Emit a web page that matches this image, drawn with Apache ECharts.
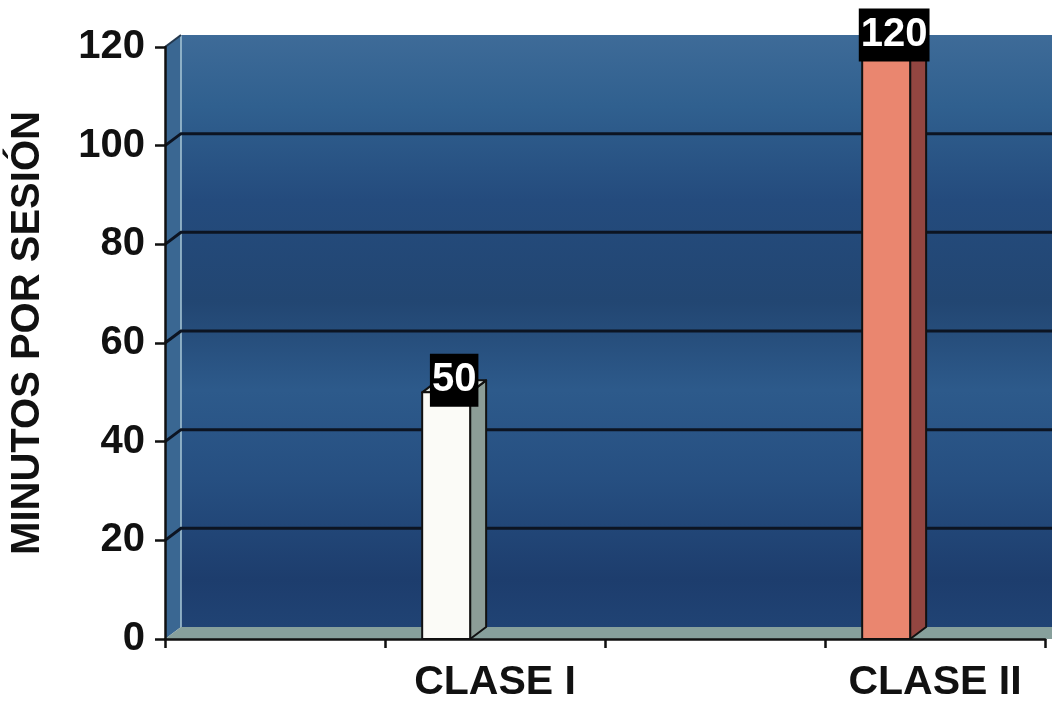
<!DOCTYPE html>
<html>
<head>
<meta charset="utf-8">
<script src="https://cdn.jsdelivr.net/npm/echarts@6/dist/echarts.min.js"></script>
<style>
  html, body { margin: 0; padding: 0; background: #ffffff; }
  #chart { width: 1052px; height: 704px; }
</style>
</head>
<body>
<div id="chart"></div>
<script>
// Categories along the horizontal axis (empty slots keep the spacing)
const xCategories = ['', 'CLASE I', '', 'CLASE II'];
// Minutes per session for each category slot
const minutes = [null, 50, null, 120];
// Value axis ticks
const yTicks = [0, 20, 40, 60, 80, 100, 120];

// Bar face colours, one per category slot
const frontColors = [null, '#fbfbf7', null, '#ea866f'];
const sideColors = [null, '#8c9d97', null, '#934641'];
const topColors = [null, '#d9e0dc', null, '#c96a58'];

const FONT = '"Liberation Sans", Arial, sans-serif';
const DX = 16, DY = -12; // depth offset of the back wall

const chart = echarts.init(document.getElementById('chart'), null, { renderer: 'canvas' });

function renderWalls(params, api) {
  const cs = params.coordSys;
  const left = cs.x, right = cs.x + cs.width, top = cs.y, bottom = cs.y + cs.height;
  const children = [];
  // back wall
  children.push({
    type: 'rect',
    shape: { x: left + DX, y: top + DY, width: cs.width + 20, height: cs.height },
    style: {
      fill: new echarts.graphic.LinearGradient(0, 0, 0, 1, [
        { offset: 0, color: '#3e6b98' },
        { offset: 0.12, color: '#30608f' },
        { offset: 0.28, color: '#244b7d' },
        { offset: 0.45, color: '#224672' },
        { offset: 0.6, color: '#2d5a8b' },
        { offset: 0.75, color: '#264f81' },
        { offset: 0.92, color: '#1d3d6d' },
        { offset: 1, color: '#204374' }
      ])
    }
  });
  // left side wall
  children.push({
    type: 'polygon',
    shape: { points: [[left, top], [left + DX, top + DY], [left + DX, bottom + DY], [left, bottom]] },
    style: { fill: '#3a6792' }
  });
  children.push({
    type: 'line',
    shape: { x1: left + DX, y1: top + DY, x2: left + DX, y2: bottom + DY },
    style: { stroke: 'rgba(170,200,215,0.75)', lineWidth: 2 }
  });
  // floor
  children.push({
    type: 'polygon',
    shape: { points: [[left, bottom], [left + DX, bottom + DY], [right + DX + 10, bottom + DY], [right + 10, bottom]] },
    style: { fill: '#87a09c' }
  });
  // gridlines on the back wall with their corner diagonals
  yTicks.forEach(function (v) {
    if (v === 0) return;
    const y = api.coord([0, v])[1];
    if (v === yTicks[yTicks.length - 1]) {
      children.push({
        type: 'line',
        shape: { x1: left, y1: y, x2: left + DX, y2: y + DY },
        style: { stroke: '#23384f', lineWidth: 2 }
      });
      return;
    }
    children.push({
      type: 'polyline',
      shape: { points: [[left, y], [left + DX, y + DY], [right + DX + 10, y + DY]] },
      style: { stroke: '#0c1422', lineWidth: 3, fill: null }
    });
  });
  return { type: 'group', children: children };
}

function renderBar(params, api) {
  const idx = api.value(0);
  const val = api.value(1);
  if (val == null || isNaN(val)) return null;
  const bw = api.size([1, 0])[0];
  const topPt = api.coord([idx, val]);
  const basePt = api.coord([idx, 0]);
  const w = bw * 0.218;
  const cx = topPt[0] - bw * 0.222;
  const x0 = cx - w / 2, x1 = cx + w / 2;
  const yt = topPt[1], yb = basePt[1];
  const stroke = { stroke: '#111', lineWidth: 2, lineJoin: 'round' };
  return {
    type: 'group',
    children: [
      {
        type: 'polygon',
        shape: { points: [[x1, yb], [x1 + DX, yb + DY], [x1 + DX, yt + DY], [x1, yt]] },
        style: Object.assign({ fill: sideColors[idx] }, stroke)
      },
      {
        type: 'polygon',
        shape: { points: [[x0, yt], [x1, yt], [x1 + DX, yt + DY], [x0 + DX, yt + DY]] },
        style: Object.assign({ fill: topColors[idx] }, stroke)
      },
      {
        type: 'rect',
        shape: { x: x0, y: yt, width: w, height: yb - yt },
        style: Object.assign({ fill: frontColors[idx] }, stroke)
      },
      {
        type: 'text',
        style: {
          text: String(val),
          x: cx + DX / 2,
          y: yt - 12,
          align: 'center',
          verticalAlign: 'middle',
          fill: '#ffffff',
          font: 'bold 40px ' + FONT,
          lineHeight: 42,
          backgroundColor: '#000000',
          padding: [6, 2, 5, 2]
        }
      }
    ]
  };
}

chart.setOption({
  animation: false,
  backgroundColor: '#ffffff',
  grid: { left: 163, right: 7, top: 47, bottom: 65, containLabel: false },
  xAxis: {
    type: 'category',
    data: xCategories,
    boundaryGap: true,
    axisLine: { show: true, lineStyle: { color: '#111', width: 2.5 } },
    axisTick: { show: true, interval: 0, alignWithLabel: false, length: 9, lineStyle: { color: '#111', width: 2.5 } },
    axisLabel: {
      interval: 0, hideOverlap: false,
      color: '#111', fontFamily: FONT, fontWeight: 'bold', fontSize: 41, margin: 23
    },
    splitLine: { show: false },
    z: 10
  },
  yAxis: {
    type: 'value',
    min: yTicks[0],
    max: yTicks[yTicks.length - 1],
    interval: 20,
    name: 'MINUTOS POR SESIÓN',
    nameLocation: 'middle',
    nameRotate: 90,
    nameGap: 117,
    nameTextStyle: { color: '#111', fontFamily: FONT, fontWeight: 'bold', fontSize: 40, padding: [0, 0, 0, 20] },
    axisLine: { show: true, lineStyle: { color: '#111', width: 2.5 } },
    axisTick: { show: true, length: 10, lineStyle: { color: '#111', width: 2.5 } },
    axisLabel: {
      color: '#111', fontFamily: FONT, fontWeight: 'bold', fontSize: 40, margin: 20
    },
    splitLine: { show: false },
    z: 10
  },
  series: [
    {
      type: 'custom',
      name: 'walls',
      renderItem: renderWalls,
      data: [[0, 0]],
      clip: false,
      silent: true,
      z: 1
    },
    {
      type: 'custom',
      name: 'MINUTOS POR SESIÓN',
      renderItem: renderBar,
      data: xCategories.map(function (c, i) { return [i, minutes[i] == null ? '-' : minutes[i]]; }),
      clip: false,
      z: 5
    }
  ]
});
</script>
</body>
</html>
